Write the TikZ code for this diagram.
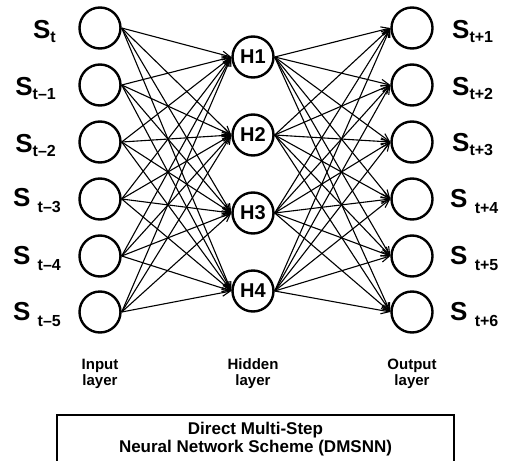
\documentclass[tikz,border=0pt]{standalone}
\usepackage{fontspec}
\setmainfont{Liberation Sans}
\usetikzlibrary{arrows.meta}
\newcommand\lsub[2]{\raisebox{#1}{\fontsize{16}{16}\selectfont #2}}
\begin{document}
\begin{tikzpicture}[x=1pt,y=-1pt,
  neuron/.style={circle,draw,line width=2.4pt,minimum size=41pt,inner sep=0pt,
    font=\fontsize{20}{20}\selectfont\bfseries},
  link/.style={line width=1.1pt,-{Straight Barb[length=8pt,width=7pt,line width=1.1pt]}},
  lbl/.style={inner sep=0pt,font=\fontsize{26}{26}\selectfont\bfseries},
  layerlbl/.style={align=center,inner sep=0pt,font=\fontsize{15}{16}\selectfont\bfseries},
  schemebox/.style={draw,line width=1.4pt},
  ]
\useasboundingbox (0,0) rectangle (505,460);
% input
\foreach \i/\y in {1/28,2/85,3/142,4/199,5/256,6/312}{
  \node[neuron] (in\i) at (100,\y) {};
  \node[neuron] (out\i) at (412,\y) {};
}
\foreach \i/\y in {1/57,2/135,3/213,4/291}{
  \node[neuron] (h\i) at (253,\y) {H\i};
}
% labels
\node[lbl,anchor=east] (li1) at (56,31) {S\lsub{-4pt}{t}};
\node[lbl,anchor=east] (li2) at (56,88) {S\lsub{-4pt}{t–1}};
\node[lbl,anchor=east] (li3) at (56,145) {S\lsub{-4pt}{t–2}};
\node[lbl,anchor=east] (li4) at (61,201) {S \lsub{-6pt}{t–3}};
\node[lbl,anchor=east] (li5) at (61,258) {S \lsub{-6pt}{t–4}};
\node[lbl,anchor=east] (li6) at (61,314) {S \lsub{-6pt}{t–5}};
\node[lbl,anchor=west] (lo1) at (452,31) {S\lsub{-4pt}{t+1}};
\node[lbl,anchor=west] (lo2) at (452,88) {S\lsub{-4pt}{t+2}};
\node[lbl,anchor=west] (lo3) at (452,145) {S\lsub{-4pt}{t+3}};
\node[lbl,anchor=west] (lo4) at (450,201) {S \lsub{-6pt}{t+4}};
\node[lbl,anchor=west] (lo5) at (450,258) {S \lsub{-6pt}{t+5}};
\node[lbl,anchor=west] (lo6) at (450,314) {S \lsub{-6pt}{t+6}};
% connections
\foreach \i in {1,...,6}{
  \foreach \j in {1,...,4}{
    \draw[link] (in\i.east) -- (h\j.west);
    \draw[link] (h\j.east) -- (out\i.west);
  }
}
% layer labels
\node[layerlbl] (tin) at (100,374) {Input\\layer};
\node[layerlbl] (thid) at (253,374) {Hidden\\layer};
\node[layerlbl] (tout) at (412,374) {Output\\layer};
% scheme box
\draw[schemebox] (57,415) rectangle (454,475);
\node[align=center,inner sep=0pt,font=\fontsize{17}{18}\selectfont\bfseries] (title) at (255.5,439.5)
  {Direct Multi-Step\\Neural Network Scheme (DMSNN)};
\end{tikzpicture}
\end{document}
